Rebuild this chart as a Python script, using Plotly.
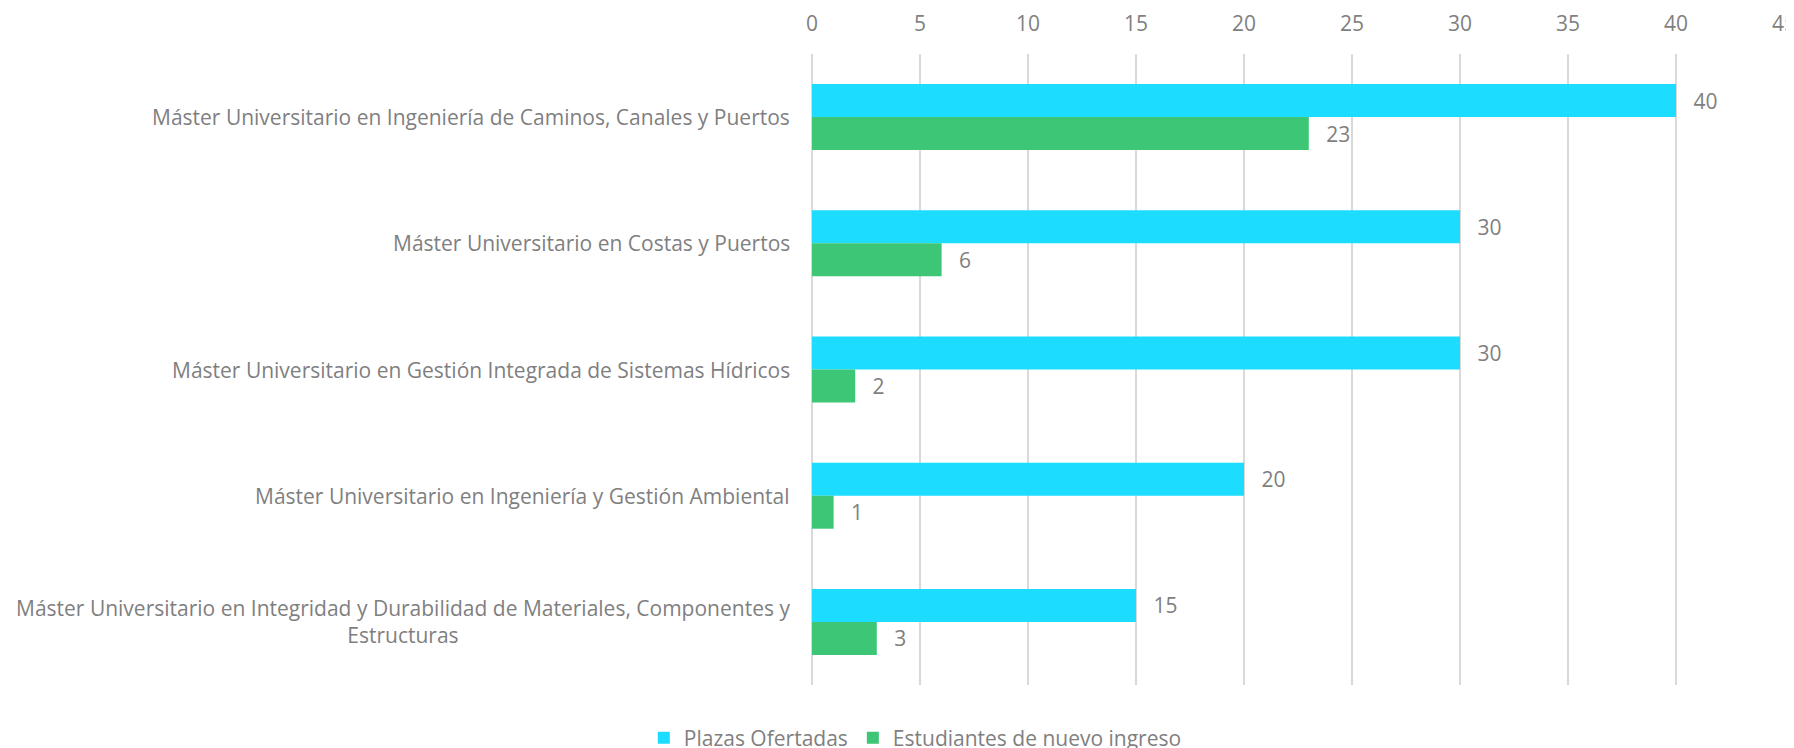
import plotly.graph_objects as go

# categories and values
masters = [
    "Máster Universitario en Ingeniería de Caminos, Canales y Puertos",
    "Máster Universitario en Costas y Puertos",
    "Máster Universitario en Gestión Integrada de Sistemas Hídricos",
    "Máster Universitario en Ingeniería y Gestión Ambiental",
    "Máster Universitario en Integridad y Durabilidad de Materiales, Componentes y<br>Estructuras",
]
plazas = [40, 30, 30, 20, 15]
estudiantes = [23, 6, 2, 1, 3]
x_ticks = [0, 5, 10, 15, 20, 25, 30, 35, 40, 45]

FONT = "Open Sans, sans-serif"
GREY = "#7F7F7F"
PAD = "\u00a0\u00a0\u2009"

fig = go.Figure()
fig.add_trace(go.Bar(y=masters, x=plazas, orientation="h", name="Plazas Ofertadas",
                     marker=dict(color="#1CDCFF", line=dict(width=0)),
                     text=[PAD + str(v) for v in plazas], textposition="outside",
                     cliponaxis=False, textfont=dict(size=21, color=GREY, family=FONT)))
fig.add_trace(go.Bar(y=masters, x=estudiantes, orientation="h", name="Estudiantes de nuevo ingreso",
                     marker=dict(color="#3CC676", line=dict(width=0)),
                     text=[PAD + str(v) for v in estudiantes], textposition="outside",
                     cliponaxis=False, textfont=dict(size=21, color=GREY, family=FONT)))

# category labels as annotations so wrapped lines are centred
for m in masters:
    fig.add_annotation(x=0, xref="paper", y=m, yref="y", text=m, showarrow=False,
                       xanchor="right", align="center", xshift=-20,
                       font=dict(size=21, color=GREY, family=FONT))

# the page body adds an 8px offset, so the figure is 8px smaller on each axis
fig.update_layout(
    width=1786, height=740,
    margin=dict(l=804, r=10, t=46, b=63),
    paper_bgcolor="white", plot_bgcolor="white",
    barmode="group", bargap=0.477, bargroupgap=0,
    font=dict(family=FONT, size=21, color=GREY),
    legend=dict(orientation="h", x=0.508, xref="container", xanchor="center",
                y=0.0135, yref="container", yanchor="middle",
                font=dict(size=21, color=GREY), itemwidth=30, traceorder="normal"),
)
fig.update_xaxes(side="top", range=[0, 45], tickvals=x_ticks, showgrid=True,
                 gridcolor="#D9D9D9", gridwidth=1.5, zeroline=True, zerolinecolor="#D9D9D9",
                 zerolinewidth=1.5, showline=False, ticks="", ticklabelstandoff=18,
                 ticklabeloverflow="allow", automargin=False,
                 tickfont=dict(size=21, color=GREY))
fig.update_yaxes(autorange="reversed", showticklabels=False, showgrid=False, ticks="",
                 automargin=False)

fig.write_html("out.html")
